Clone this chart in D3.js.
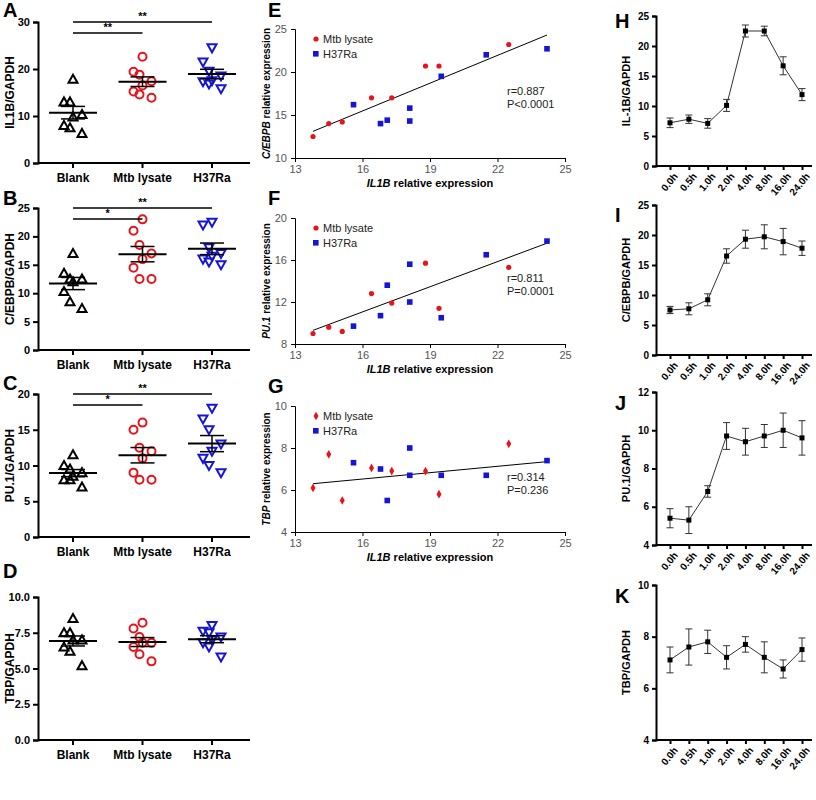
<!DOCTYPE html><html><head><meta charset="utf-8"><script src="https://cdn.jsdelivr.net/npm/d3@7"></script>
<style>body{margin:0;background:#fff}text{font-family:Arial,"Liberation Sans",sans-serif}</style></head><body>
<svg id="c" width="816" height="800"></svg>
<script>
const groups=["Blank","Mtb lysate","H37Ra"];
const A_vals=[[17.8,13,13,10.3,9.8,8,7.5,6.3],[22.6,19.4,18.8,17.4,16.5,15.2,14.6,13.9],[24.5,21.5,19.5,18.5,17.5,17.3,16.8,15.8]];
const B_vals=[[17,13.5,12.5,12.5,12,10.3,8.5,7.3],[23,21,18.5,17,16,14.5,12.5,12.5],[22.5,22,18,17,16.5,16,15.5,15]];
const C_vals=[[11.5,10,9.5,9,8.5,8,8,7],[16,15,12.5,12,11,9,8,8],[18,16.5,15,13,12,11,10,9]];
const D_vals=[[8.5,7.5,7.5,7,7,6.5,6.2,5.2],[8.2,7.8,7.2,6.8,6.8,6.5,6,5.5],[8,7.6,7.5,7.2,7,6.8,6.5,5.8]];
const mtbX=[13.8,14.5,15.1,16.4,17.3,18.8,19.4,22.5];
const h37X=[15.6,16.8,17.1,18.1,18.1,19.5,21.5,24.2];
const E_mtb=[12.5,14,14.2,17,17,20.7,20.7,23.2], E_h37=[16.2,14,14.4,14.3,15.8,19.5,22,22.7];
const F_mtb=[9,9.6,9.2,12.8,11.9,15.7,11.4,15.3], F_h37=[9.7,10.7,13.6,15.6,12,10.5,16.5,17.8];
const G_mtb=[6.1,7.7,5.5,7.05,6.9,6.9,5.8,8.2], G_h37=[7.3,7.0,5.5,8.0,6.7,6.7,6.7,7.4];
const times=["0.0h","0.5h","1.0h","2.0h","4.0h","8.0h","16.0h","24.0h"];
const H_m=[7.2,7.8,7.1,10.1,22.5,22.5,16.7,11.9], H_e=[0.8,0.7,0.8,1,1,0.8,1.5,1];
const I_m=[7.5,7.7,9.2,16.5,19.3,19.7,18.9,17.8], I_e=[0.6,1,1,1.2,1.5,2,2.2,1.2];
const J_m=[5.4,5.3,6.8,9.7,9.4,9.7,10,9.6], J_e=[0.5,0.7,0.3,0.7,0.7,0.6,0.9,0.9];
const K_m=[7.1,7.6,7.8,7.2,7.7,7.2,6.75,7.5], K_e=[0.5,0.7,0.45,0.45,0.3,0.6,0.35,0.45];

const svg=d3.select("#c");
const colors=["#000","#e8141c","#1515d6"];
function letter(t,x,y){svg.append("text").attr("x",x).attr("y",y).attr("font-size",20).attr("font-weight","bold").text(t);}
function axStyle(g,fs){g.selectAll("path,line").attr("stroke","#000").attr("stroke-width",2);g.selectAll("text").attr("font-size",fs||11).attr("font-weight","bold").attr("fill","#000");}
function marker(g,type,x,y,c){
  if(type==0) g.append("path").attr("d",`M${x},${y-4.5}L${x+4.5},${y+3.5}L${x-4.5},${y+3.5}Z`).attr("fill","none").attr("stroke",c).attr("stroke-width",2);
  else if(type==1) g.append("circle").attr("cx",x).attr("cy",y).attr("r",4).attr("fill","none").attr("stroke",c).attr("stroke-width",2);
  else g.append("path").attr("d",`M${x-4.5},${y-3.5}L${x+4.5},${y-3.5}L${x},${y+4.5}Z`).attr("fill","none").attr("stroke",c).attr("stroke-width",2);
}
function dot(top,bot,dom,ticks,vals,label,sig,fmt){
  const y=d3.scaleLinear().domain(dom).range([bot,top]);
  const x=d3.scalePoint().domain(groups).range([73,212]);
  const g=svg.append("g");
  axStyle(g.append("g").attr("transform","translate(38,0)").call(d3.axisLeft(y).tickValues(ticks).tickSize(5).tickFormat(fmt||d3.format("d"))));
  g.append("line").attr("x1",38).attr("x2",250).attr("y1",bot).attr("y2",bot).attr("stroke","#000").attr("stroke-width",2);
  groups.forEach((gr,i)=>{
    g.append("line").attr("x1",x(gr)).attr("x2",x(gr)).attr("y1",bot).attr("y2",bot+5).attr("stroke","#000").attr("stroke-width",2);
    g.append("text").attr("x",x(gr)).attr("y",bot+19).attr("text-anchor","middle").attr("font-size",12).attr("font-weight","bold").text(gr);
    const v=vals[i],n=v.length;
    const sorted=v.slice().sort((a,b)=>b-a);
    sorted.forEach((d,j)=>marker(g,i,x(gr)+( j%2? (j%4==1?-9:9):(j%4==0?0:-3)),y(d),colors[i]));
    const m=d3.mean(v),se=d3.deviation(v)/Math.sqrt(n);
    g.append("line").attr("x1",x(gr)-24).attr("x2",x(gr)+24).attr("y1",y(m)).attr("y2",y(m)).attr("stroke","#000").attr("stroke-width",2);
    [m-se,m+se].forEach(s=>g.append("line").attr("x1",x(gr)-12).attr("x2",x(gr)+12).attr("y1",y(s)).attr("y2",y(s)).attr("stroke","#000").attr("stroke-width",1.5));
    g.append("line").attr("x1",x(gr)).attr("x2",x(gr)).attr("y1",y(m-se)).attr("y2",y(m+se)).attr("stroke","#000").attr("stroke-width",1.5);
  });
  sig.forEach((s,k)=>{const yy=top+ (k==0?11:0);
    g.append("line").attr("x1",x(groups[0])).attr("x2",x(groups[k+1])).attr("y1",yy).attr("y2",yy).attr("stroke","#000").attr("stroke-width",1.5);
    g.append("text").attr("x",(x(groups[0])+x(groups[k+1]))/2).attr("y",yy-2).attr("text-anchor","middle").attr("font-size",11).attr("font-weight","bold").text(s);});
  svg.append("text").attr("transform",`translate(14,${(top+bot)/2}) rotate(-90)`).attr("text-anchor","middle").attr("font-size",12).attr("font-weight","bold").text(label);
}
letter("A",3,17);dot(22,163,[0,30],[0,10,20,30],A_vals,"IL1B/GAPDH",["**","**"]);
letter("B",3,205);dot(208,350,[0,25],[0,5,10,15,20,25],B_vals,"C/EBPB/GAPDH",["*","**"]);
letter("C",3,390);dot(394,537,[0,20],[0,5,10,15,20],C_vals,"PU.1/GAPDH",["*","**"]);
letter("D",3,578);dot(597,740,[0,10],[0,2.5,5,7.5,10],D_vals,"TBP/GAPDH",[],d3.format(".1f"));

function scat(top,bot,dom,ticks,ym,yh,gene,line,stat,mtbShape){
  const x=d3.scaleLinear().domain([13,25]).range([295,565]);
  const y=d3.scaleLinear().domain(dom).range([bot,top]);
  const g=svg.append("g");
  const ax=g.append("g").attr("transform",`translate(295,0)`).call(d3.axisLeft(y).tickValues(ticks).tickSize(4).tickFormat(d3.format("d")));
  const bx=g.append("g").attr("transform",`translate(0,${bot})`).call(d3.axisBottom(x).tickValues([13,16,19,22,25]).tickSize(4));
  [ax,bx].forEach(a=>{a.selectAll("path,line").attr("stroke","#000");a.selectAll("text").attr("font-size",11).attr("fill","#555");});
  ax.selectAll("text").attr("x",-8);
  g.append("line").attr("x1",x(line[0])).attr("y1",y(line[1])).attr("x2",x(line[2])).attr("y2",y(line[3])).attr("stroke","#000");
  mtbX.forEach((d,i)=>{ if(mtbShape) g.append("path").attr("d",d3.symbol(d3.symbolDiamond,22)()).attr("transform",`translate(${x(d)},${y(ym[i])})`).attr("fill","#e8141c");
    else g.append("circle").attr("cx",x(d)).attr("cy",y(ym[i])).attr("r",2.6).attr("fill","#e8141c");});
  h37X.forEach((d,i)=>g.append("rect").attr("x",x(d)-2.8).attr("y",y(yh[i])-2.8).attr("width",5.6).attr("height",5.6).attr("fill","#1515d6"));
  if(mtbShape) g.append("path").attr("d",d3.symbol(d3.symbolDiamond,22)()).attr("transform",`translate(316,${top+10})`).attr("fill","#e8141c");
  else g.append("circle").attr("cx",316).attr("cy",top+10).attr("r",2.6).attr("fill","#e8141c");
  g.append("text").attr("x",323).attr("y",top+14).attr("font-size",11).attr("fill","#222").text("Mtb lysate");
  g.append("rect").attr("x",313).attr("y",top+22).attr("width",5.6).attr("height",5.6).attr("fill","#1515d6");
  g.append("text").attr("x",323).attr("y",top+29).attr("font-size",11).attr("fill","#222").text("H37Ra");
  const sy=mtbShape?(top+bot)/2+12:(top+bot)/2+1;
  g.append("text").attr("x",507).attr("y",sy).attr("font-size",11).attr("fill","#222").text(stat[0]);
  g.append("text").attr("x",507).attr("y",sy+13).attr("font-size",11).attr("fill","#222").text(stat[1]);
  const t=g.append("text").attr("x",430).attr("y",bot+29).attr("text-anchor","middle").attr("font-size",11).attr("font-weight","bold");
  t.append("tspan").attr("font-style","italic").text("IL1B");t.append("tspan").text(" relative expression");
  const l=g.append("text").attr("transform",`translate(270,${(top+bot)/2}) rotate(-90)`).attr("text-anchor","middle").attr("font-size",10).attr("font-weight","bold");
  l.append("tspan").attr("font-style","italic").text(gene);l.append("tspan").text(" relative expression");
}
letter("E",268,17);scat(29,158,[10,25],[10,15,20,25],E_mtb,E_h37,"C/EBPB",[13.8,13.1,24.2,24.3],["r=0.887","P<0.0001"],false);
letter("F",268,205);scat(218,344,[8,20],[8,12,16,20],F_mtb,F_h37,"PU.1",[13.8,9.3,24.2,17.6],["r=0.811","P=0.0001"],false);
letter("G",268,393);scat(406,532,[4,10],[4,6,8,10],G_mtb,G_h37,"TBP",[13.8,6.3,24.2,7.35],["r=0.314","P=0.236"],true);

function ts(top,bot,dom,ticks,m,e,label){
  const x=d3.scalePoint().domain(times).range([670,802]);
  const y=d3.scaleLinear().domain(dom).range([bot,top]);
  const g=svg.append("g");
  axStyle(g.append("g").attr("transform","translate(656,0)").call(d3.axisLeft(y).tickValues(ticks).tickSize(4).tickFormat(d3.format("d"))),10);
  const bx=g.append("g").attr("transform",`translate(0,${bot})`).call(d3.axisBottom(x).tickSize(4));
  bx.select(".domain").attr("d",`M656,0H812`);axStyle(bx,10);
  bx.selectAll("text").attr("transform","rotate(-50)").attr("text-anchor","end").attr("dx","-0.3em").attr("dy","0.6em");
  g.append("path").attr("d",d3.line().x((d,i)=>x(times[i])).y(d=>y(d))(m)).attr("fill","none").attr("stroke","#333");
  m.forEach((d,i)=>{const xx=x(times[i]);
    g.append("line").attr("x1",xx).attr("x2",xx).attr("y1",y(d-e[i])).attr("y2",y(d+e[i])).attr("stroke","#333");
    [d-e[i],d+e[i]].forEach(s=>g.append("line").attr("x1",xx-3.5).attr("x2",xx+3.5).attr("y1",y(s)).attr("y2",y(s)).attr("stroke","#333"));
    g.append("rect").attr("x",xx-2.5).attr("y",y(d)-2.5).attr("width",5).attr("height",5).attr("fill","#000");});
  svg.append("text").attr("transform",`translate(630,${(top+bot)/2}) rotate(-90)`).attr("text-anchor","middle").attr("font-size",11).attr("font-weight","bold").text(label);
}
letter("H",615,28);ts(16,166,[0,25],[0,5,10,15,20,25],H_m,H_e,"IL-1B/GAPDH");
letter("I",615,222);ts(205,355,[0,25],[0,5,10,15,20,25],I_m,I_e,"C/EBPB/GAPDH");
letter("J",615,410);ts(392,545,[4,12],[4,6,8,10,12],J_m,J_e,"PU.1/GAPDH");
letter("K",615,603);ts(585,740,[4,10],[4,6,8,10],K_m,K_e,"TBP/GAPDH");
</script></body></html>
